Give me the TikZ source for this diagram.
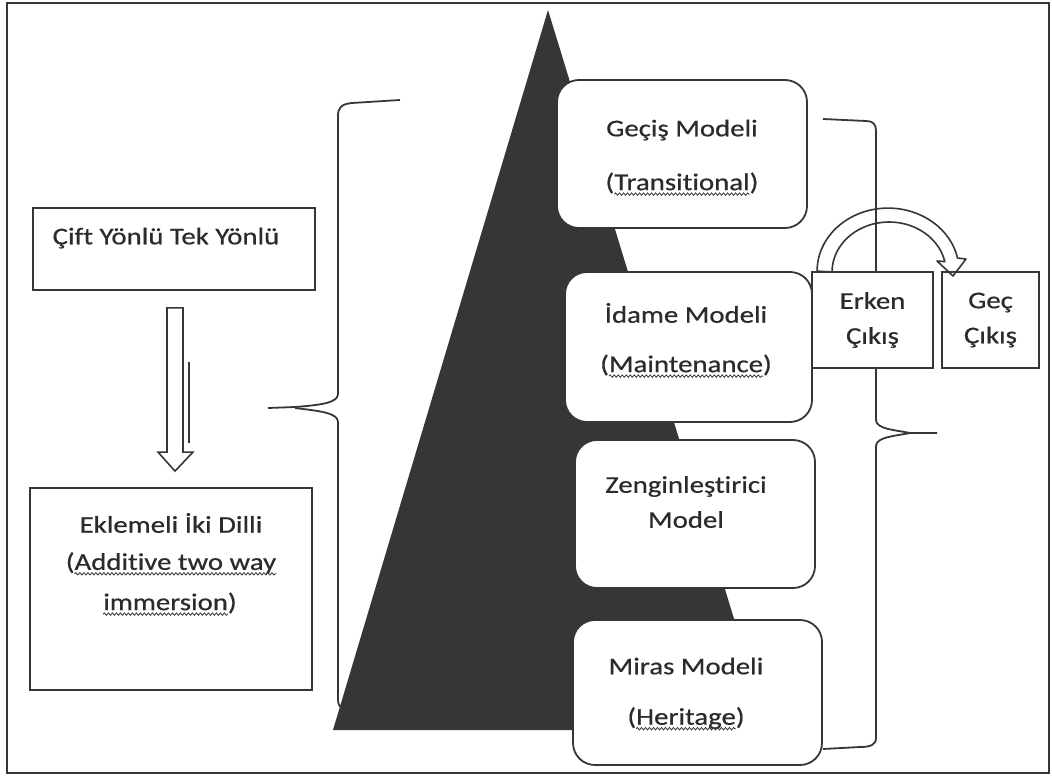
\documentclass[tikz,border=0pt]{standalone}
\usepackage{fontspec}
\setmainfont{Carlito}[FakeStretch=1.2, FakeBold=0.6, Ligatures=NoCommon]
\usetikzlibrary{calc,decorations.pathmorphing}
\definecolor{ink}{HTML}{363636}
\tikzset{
  box/.style={draw=ink, line width=1.8pt, fill=white, inner sep=0pt},
  rbox/.style={box, rounded corners=22pt},
  txt/.style={text=ink!80!black, align=center, font=\fontsize{24}{29}\selectfont, inner sep=0pt},
  brace/.style={draw=ink, line width=1.8pt, line join=round},
  wave/.style={draw=ink, line width=0.8pt, decorate, decoration={snake, amplitude=1.2pt, segment length=4pt}},
}
\begin{document}
\begin{tikzpicture}[x=1pt,y=-1pt]
\useasboundingbox (0,0) rectangle (1052,776);
\draw[ink, line width=2.6pt] (7,3) rectangle (1049,773);
% left brace
\draw[brace] (400,100) -- (352,103) .. controls (341,104) and (338,108) .. (338,116) -- (338,394)
  .. controls (338,403) and (320,405) .. (295,407) -- (268,408);
\draw[brace] (295,408) .. controls (320,411) and (338,413) .. (338,422) -- (338,700)
  .. controls (338,708) and (345,712) .. (355,712);
% right brace
\draw[brace] (823,119) -- (866,121) .. controls (873,121) and (876,124) .. (876,131) -- (876,420)
  .. controls (876,429) and (895,430) .. (910,433) -- (937,433);
\draw[brace] (910,433) .. controls (895,436) and (876,437) .. (876,446) -- (876,738)
  .. controls (876,745) and (870,747) .. (860,747) -- (823,749);
% pyramid
\fill[ink] (548,10) -- (333,730) -- (768,730) -- cycle;
% model boxes
\node[rbox, minimum width=250pt, minimum height=148pt] (gecis) at (682,154) {};
\node[rbox, minimum width=247pt, minimum height=150pt] (idame) at (688.5,347) {};
\node[rbox, minimum width=240pt, minimum height=148pt] (zengin) at (695,514) {};
\node[rbox, minimum width=249pt, minimum height=145pt] (miras) at (697.5,692.5) {};
\node[txt] (gecis-a) at (682,130) {Geçiş Modeli};
\node[txt] (gecis-b) at (682,183) {(Transitional)};
\node[txt] (idame-a) at (686,313) {İdame Modeli};
\node[txt] (idame-b) at (686,365) {(Maintenance)};
\node[txt] (zengin-a) at (686,502) {Zenginleştirici\\[6pt]Model};
\node[txt] (miras-a) at (686,666) {Miras Modeli};
\node[txt] (miras-b) at (686,718) {(Heritage)};
\draw[wave] ($(gecis-b.base west)+(9,4)$) -- ($(gecis-b.base east)+(-9,4)$);
\draw[wave] ($(idame-b.base west)+(9,4)$) -- ($(idame-b.base east)+(-9,4)$);
\draw[wave] ($(miras-b.base west)+(9,4)$) -- ($(miras-b.base east)+(-9,4)$);
% exit boxes
\node[box, txt, minimum width=121pt, minimum height=96pt] (erken) at (872.5,320) {Erken\\[6pt]Çıkış};
\node[box, txt, minimum width=97pt, minimum height=96pt] (gec) at (990.5,320) {Geç\\[6pt]Çıkış};
\draw[ink, line width=1.6pt, line join=round] ([xshift=6pt]erken.north west)
  arc[start angle=180, end angle=348, x radius=71, y radius=63]
  -- (966,259) -- (953,276) -- (937,261) -- (944.8,261.6)
  arc[start angle=348, end angle=180, x radius=57, y radius=50] -- cycle;
% left side
\node[box, minimum width=282pt, minimum height=82pt] (cift) at (174,249) {};
\node[txt] (cift-t) at (166,238) {Çift Yönlü Tek Yönlü};
\node[box, minimum width=282pt, minimum height=202pt] (ekl) at (171,589) {};
\node[txt] (ekl-a) at (171,523) {Eklemeli İki Dilli};
\node[txt] (ekl-b) at (171,563) {(Additive two way};
\node[txt] (ekl-c) at (170,603) {immersion)};
\draw[wave] ($(ekl-b.base west)+(9,4)$) -- ($(ekl-b.base east)+(0,4)$);
\draw[wave] ($(ekl-c.base west)+(0,4)$) -- ($(ekl-c.base east)+(-9,4)$);
\coordinate (a-top) at ($(cift.south)+(1,17)$);
\coordinate (a-tip) at ($(ekl.north)+(4,-16)$);
\draw[ink, line width=1.6pt, line join=miter] ($(a-top)+(-8,0)$) -- ++(16,0) -- ($(a-tip)+(8,-19)$)
  -- ++(10,0) -- (a-tip) -- ++(-17,-19) -- ++(9,0) -- cycle;
\draw[ink, line width=1.4pt] (189,362) -- (189,443);
\end{tikzpicture}
\end{document}
